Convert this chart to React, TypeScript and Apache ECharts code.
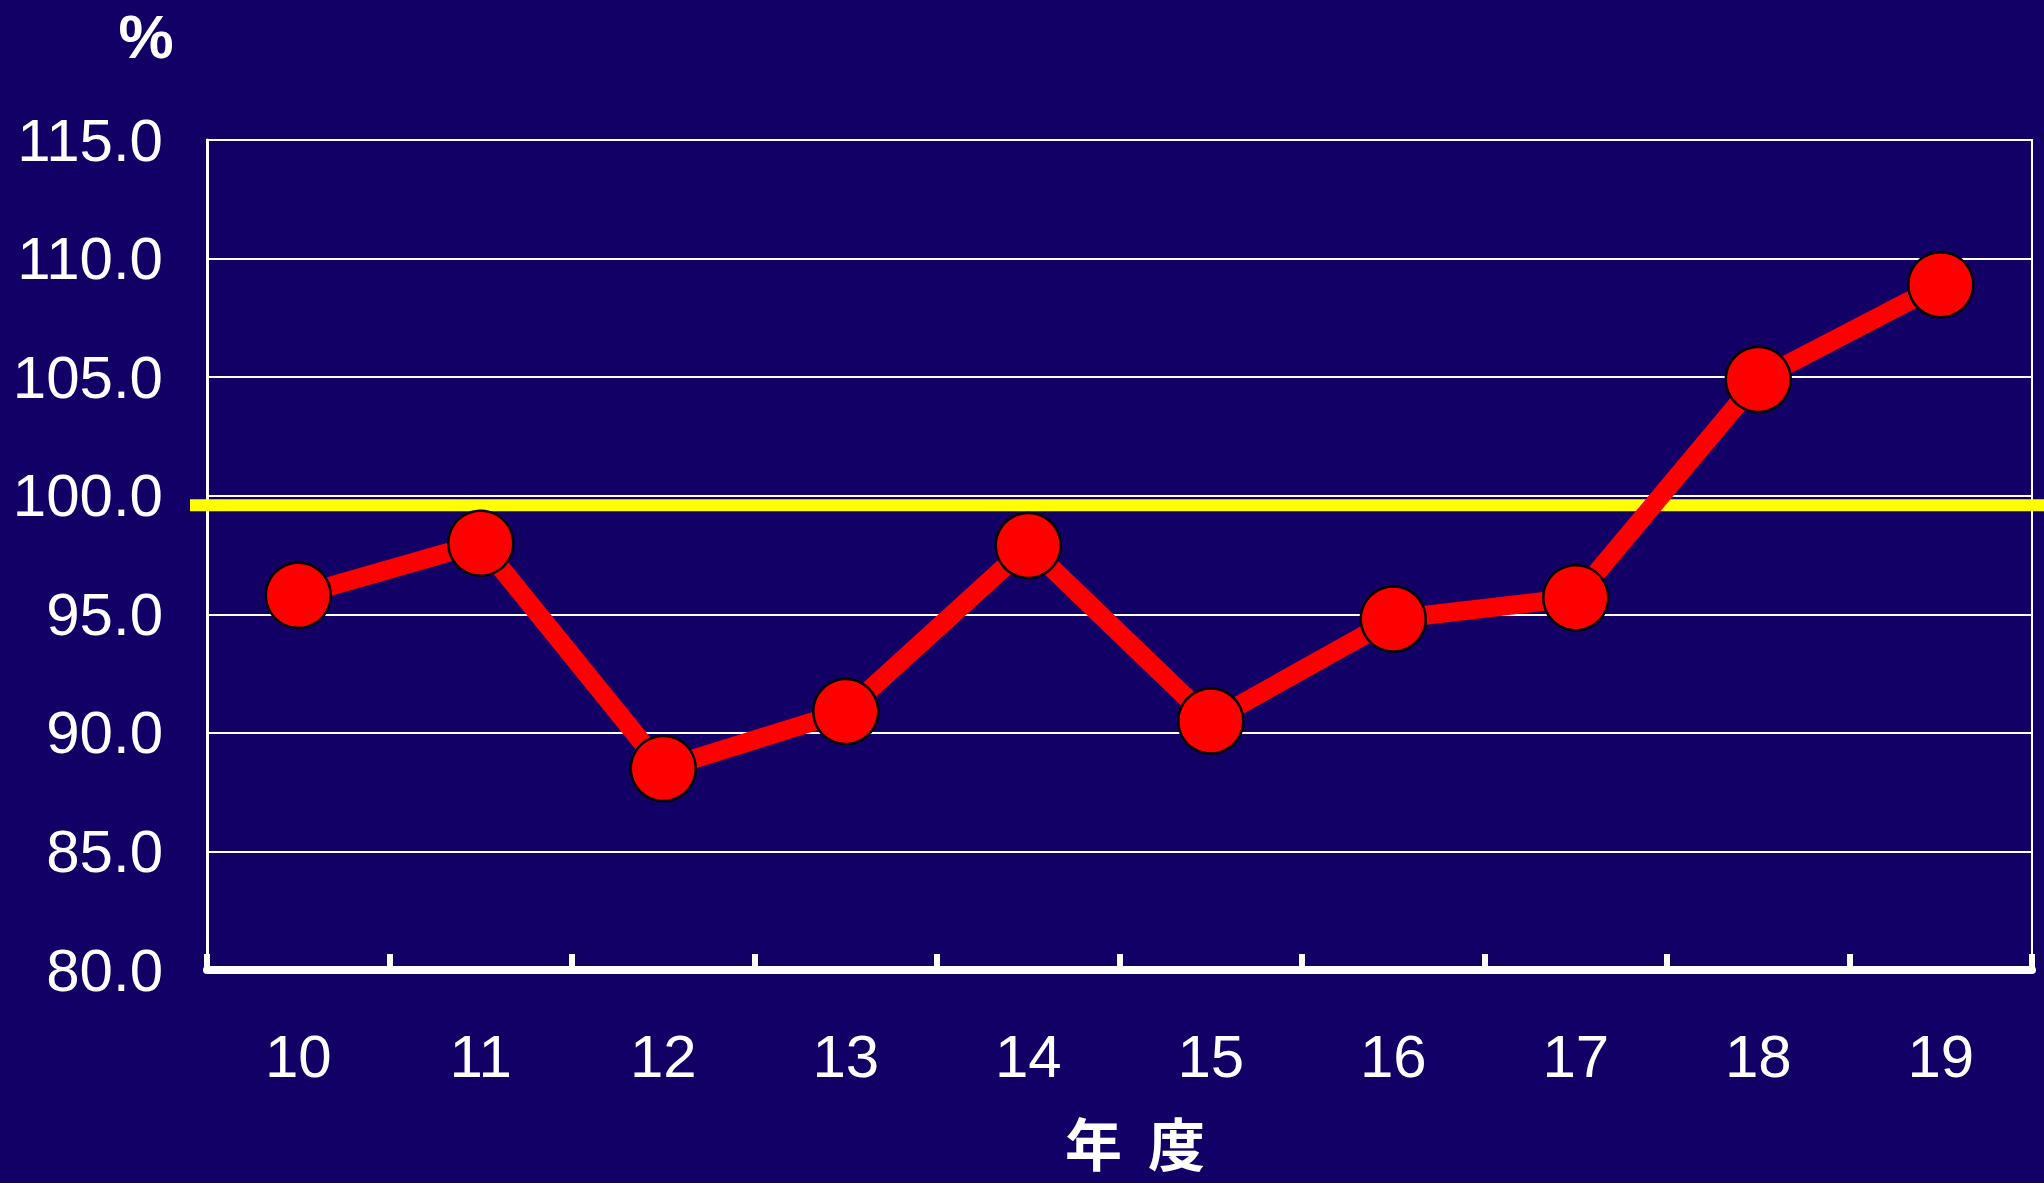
import React, { useEffect, useRef } from "react";
import * as echarts from "echarts";

const years: string[] = ["10", "11", "12", "13", "14", "15", "16", "17", "18", "19"];
const ratio: number[] = [95.8, 98.0, 88.5, 90.9, 97.9, 90.5, 94.8, 95.7, 104.9, 108.9];
const referenceLine: number[] = [99.6];
const yMin = 80;
const yMax = 115;
const yStep = 5;
const unitLabel = "%";
const xAxisTitle = "年  度";

const BG = "#120066";
const FONT = '"Liberation Sans", Arial, Helvetica, sans-serif';

export default function App() {
  const ref = useRef<HTMLDivElement>(null);
  useEffect(() => {
    if (!ref.current) return;
    const chart = echarts.init(ref.current, undefined, { renderer: "svg" });
    chart.setOption({
      animation: false,
      backgroundColor: BG,
      grid: {
        left: 207,
        top: 140,
        right: 12,
        bottom: 213,
        show: true,
        borderColor: "#ffffff",
        borderWidth: 2,
        backgroundColor: "transparent",
      },
      xAxis: {
        type: "category",
        data: years,
        boundaryGap: true,
        axisLine: { show: true, lineStyle: { color: "#ffffff", width: 8 } },
        axisTick: {
          show: true,
          inside: true,
          length: 16,
          alignWithLabel: false,
          lineStyle: { color: "#ffffff", width: 6 },
        },
        axisLabel: {
          color: "#ffffff",
          fontSize: 60,
          fontFamily: FONT,
          margin: 56,
          interval: 0,
        },
        splitLine: { show: false },
      },
      yAxis: {
        type: "value",
        min: yMin,
        max: yMax,
        interval: yStep,
        axisLine: { show: true, lineStyle: { color: "#ffffff", width: 3 } },
        axisTick: { show: false },
        axisLabel: {
          color: "#ffffff",
          fontSize: 60,
          fontFamily: FONT,
          margin: 44,
          formatter: (v: number) => v.toFixed(1),
        },
        splitLine: { show: true, lineStyle: { color: "#ffffff", width: 2 } },
      },
      graphic: [
        {
          type: "text",
          x: 146,
          y: 36,
          style: {
            text: unitLabel,
            fill: "#ffffff",
            fontSize: 62,
            fontWeight: "bold",
            fontFamily: FONT,
            align: "center",
            verticalAlign: "middle",
          },
        },
        {
          type: "text",
          x: 1135,
          y: 1141,
          style: {
            text: xAxisTitle,
            fill: "#ffffff",
            fontSize: 57,
            fontWeight: "bold",
            fontFamily: '"Noto Sans CJK JP", "Noto Sans CJK SC", sans-serif',
            align: "center",
            verticalAlign: "middle",
            lineHeight: 57,
          },
        },
      ],
      series: [
        {
          type: "custom",
          z: 3,
          clip: false,
          silent: true,
          data: referenceLine.map((v) => [0, v]),
          renderItem: (params: any, api: any) => {
            const y = api.coord([0, api.value(1)])[1];
            const cs = params.coordSys;
            return {
              type: "line",
              shape: { x1: cs.x - 17, y1: y, x2: cs.x + cs.width + 12, y2: y },
              style: { stroke: "#ffff00", lineWidth: 12 },
            };
          },
        },
        {
          type: "line",
          z: 5,
          data: ratio,
          symbol: "circle",
          symbolSize: 65,
          lineStyle: { color: "#ff0000", width: 19 },
          itemStyle: { color: "#ff0000", borderColor: "#000000", borderWidth: 2.5 },
        },
      ],
    });
    return () => chart.dispose();
  }, []);
  return (
    <div
      ref={ref}
      style={{ position: "fixed", left: 0, top: 0, width: 2044, height: 1183 }}
    />
  );
}
